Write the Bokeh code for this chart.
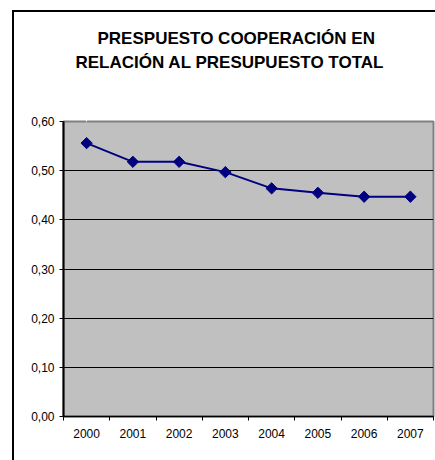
import numpy as np
from bokeh.plotting import figure
from bokeh.models import (Range1d, FixedTicker, CustomJSTickFormatter, Title,
                          LinearAxis, ColumnDataSource)
from bokeh.embed import file_html
from bokeh.resources import INLINE

# ---- data ----
years = ["2000", "2001", "2002", "2003", "2004", "2005", "2006", "2007"]
ratio = [0.556, 0.518, 0.518, 0.497, 0.464, 0.455, 0.447, 0.447]
y_ticks = [0.0, 0.1, 0.2, 0.3, 0.4, 0.5, 0.6]
title_lines = ["PRESPUESTO COOPERACIÓN EN", "RELACIÓN AL PRESUPUESTO TOTAL"]

n = len(years)
centers = [i + 0.5 for i in range(n)]
bounds = [float(i) for i in range(n + 1)]
src = ColumnDataSource(dict(x=centers, y=ratio, year=years))

p = figure(width=435, height=460, output_backend="svg", toolbar_location=None,
           x_range=Range1d(0, n), y_range=Range1d(0, 0.6),
           min_border_left=63, min_border_right=2, min_border_top=121,
           min_border_bottom=44)
# outer chart frame (left and top edges) drawn behind the transparent canvas border
p.styles = {
    "background": "linear-gradient(#000,#000) 12px 10px / 2px calc(100% - 10px) no-repeat, "
                  "linear-gradient(#000,#000) 12px 10px / calc(100% - 12px) 2px no-repeat, "
                  "#ffffff"
}

p.background_fill_color = "#C0C0C0"
p.border_fill_alpha = 0
p.outline_line_color = "#808080"
p.outline_line_width = 2

# grid
p.xgrid.visible = False
p.ygrid.ticker = FixedTicker(ticks=y_ticks[1:-1])
p.ygrid.grid_line_color = "black"
p.ygrid.grid_line_width = 1

# x axis
xa = p.xaxis[0]
xa.ticker = FixedTicker(ticks=centers, minor_ticks=bounds)
xa.formatter = CustomJSTickFormatter(args=dict(labels=years),
                                     code="return labels[Math.floor(tick)];")
xa.major_tick_out = 0
xa.major_tick_in = 0
xa.minor_tick_out = 4
xa.minor_tick_in = 0
xa.minor_tick_line_color = "black"
xa.axis_line_color = "black"
xa.axis_line_width = 1.5
xa.major_label_standoff = 8
xa.major_label_text_font = "Liberation Sans"
xa.major_label_text_font_size = "12px"
xa.major_label_text_color = "black"

# y axis
ya = p.yaxis[0]
ya.ticker = FixedTicker(ticks=y_ticks)
ya.formatter = CustomJSTickFormatter(code="return tick.toFixed(2).replace('.', ',');")
ya.major_tick_out = 4
ya.major_tick_in = 0
ya.minor_tick_out = 0
ya.minor_tick_in = 0
ya.axis_line_color = "black"
ya.axis_line_width = 2
ya.major_label_standoff = 5
ya.major_label_text_font = "Liberation Sans"
ya.major_label_text_font_size = "12px"
ya.major_label_text_color = "black"

# series
p.line("x", "y", source=src, line_color="#000080", line_width=2)
p.scatter("x", "y", source=src, marker="square", angle=np.pi / 4, size=8,
          fill_color="#000080", line_color="#000080", line_width=1)

# blank spacer between the plot area and the title (one white tick, no label)
spacer = LinearAxis(ticker=FixedTicker(ticks=[0.5]), axis_line_color=None,
                    formatter=CustomJSTickFormatter(code="return '';"),
                    major_tick_out=47, major_tick_in=0, minor_tick_out=0,
                    minor_tick_in=0, major_label_standoff=0,
                    major_label_text_font_size="1px",
                    major_tick_line_color="white", minor_tick_line_color=None)
p.add_layout(spacer, "above")

# title: two lines, nearest-to-plot first
title_offsets = [34, 12]
title_standoffs = [0, 6]
for txt, off, so in reversed(list(zip(title_lines, title_offsets, title_standoffs))):
    p.add_layout(Title(text=txt, align="left", offset=off, standoff=so,
                       text_font="Liberation Sans", text_font_style="bold",
                       text_font_size="17px", text_color="black"), "above")

open("out.html", "w").write(file_html(p, INLINE))
